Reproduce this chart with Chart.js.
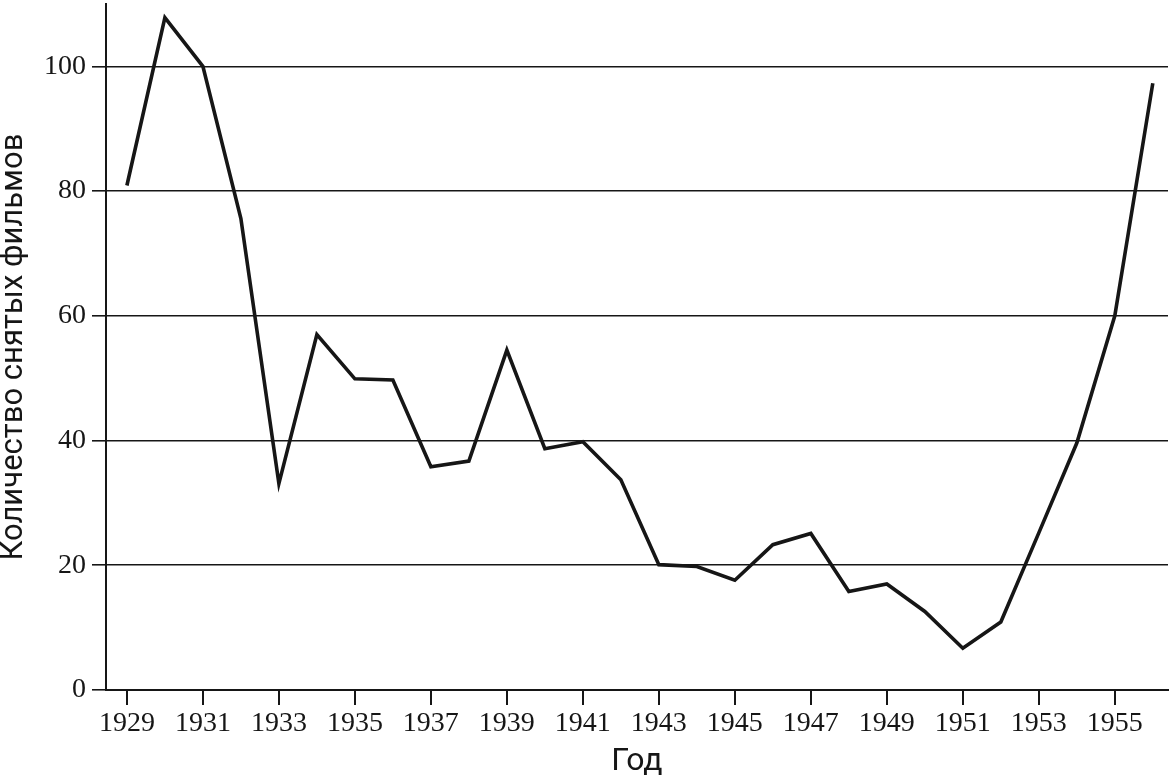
<!DOCTYPE html>
<html><head><meta charset="utf-8">
<script src="https://cdn.jsdelivr.net/npm/chart.js@4"></script>
<style>html,body{margin:0;padding:0;background:#fff}#wrap{width:1170px;height:779px;position:relative}</style>
</head><body><div id="wrap"><canvas id="c"></canvas></div>
<script>
const years = [1929,1930,1931,1932,1933,1934,1935,1936,1937,1938,1939,1940,1941,1942,1943,1944,1945,1946,1947,1948,1949,1950,1951,1952,1953,1954,1955,1956];
const films = [80.9,107.8,100,75.6,33.1,57.0,49.9,49.7,35.8,36.7,54.5,38.7,39.8,33.7,20.1,19.8,17.6,23.3,25.1,15.8,17.0,12.6,6.7,10.9,25.2,39.6,60.0,97.3];
const xTickLabels = [1929,1931,1933,1935,1937,1939,1941,1943,1945,1947,1949,1951,1953,1955];
const yTickValues = [0,20,40,60,80,100];
const xTitle = 'Год';
const yTitle = 'Количество снятых фильмов';

const ink = '#161616';
const titleFont = "'Liberation Sans Narrow', 'Roboto', sans-serif";
const tickFont = "'Liberation Serif', serif";

new Chart(document.getElementById('c'), {
  type: 'line',
  data: {
    datasets: [{
      data: years.map((y, i) => ({x: y, y: films[i]})),
      borderColor: ink,
      borderWidth: 3.6,
      pointRadius: 0,
      tension: 0,
      fill: false,
      borderJoinStyle: 'miter'
    }]
  },
  options: {
    responsive: true,
    maintainAspectRatio: false,
    animation: false,
    layout: {padding: {top: 4, right: 2, left: 0, bottom: 0}},
    plugins: {legend: {display: false}, tooltip: {enabled: false}},
    scales: {
      x: {
        type: 'linear',
        min: 1928.45,
        max: 1956.4,
        afterBuildTicks: s => { s.ticks = xTickLabels.map(v => ({value: v})); },
        afterFit: s => { s.height = 89; s.paddingLeft = 0; s.paddingRight = 0; },
        grid: {drawOnChartArea: false, drawTicks: true, tickLength: 15, color: ink, lineWidth: 2},
        border: {display: true, color: ink, width: 2},
        ticks: {
          padding: 2,
          color: ink,
          font: {family: tickFont, size: 28, lineHeight: 1.2},
          maxRotation: 0,
          autoSkip: false,
          callback: v => String(v)
        },
        title: {
          display: true,
          text: xTitle,
          color: ink,
          font: {family: titleFont, size: 32, lineHeight: 1},
          padding: {top: 0, bottom: 1}
        }
      },
      y: {
        type: 'linear',
        min: 0,
        max: 110,
        afterBuildTicks: s => { s.ticks = yTickValues.map(v => ({value: v})); },
        afterFit: s => { s.width = 106; s.paddingTop = 0; s.paddingBottom = 0; },
        grid: {drawOnChartArea: true, drawTicks: true, tickLength: 14, color: ink, lineWidth: 1.6},
        border: {display: true, color: ink, width: 2},
        ticks: {
          padding: 6,
          color: ink,
          font: {family: tickFont, size: 28, lineHeight: 1.2},
          callback: v => String(v)
        },
        title: {
          display: true,
          text: yTitle,
          color: ink,
          font: {family: titleFont, size: 31, lineHeight: 0.94},
          padding: {top: 0, bottom: 0}
        }
      }
    }
  }
});
</script>
</body></html>
